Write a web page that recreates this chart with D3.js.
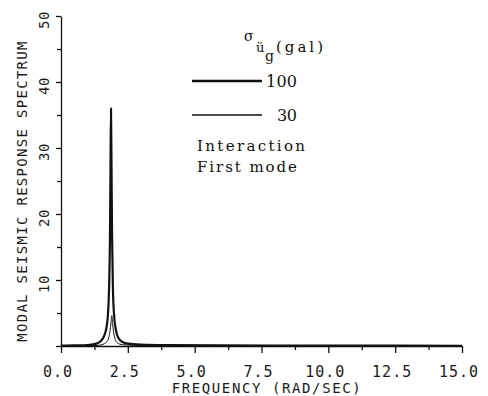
<!DOCTYPE html>
<html>
<head>
<meta charset="utf-8">
<script src="https://cdn.jsdelivr.net/npm/d3@7"></script>
<style>
  html, body { margin: 0; padding: 0; background: #fff; }
  svg { display: block; }
  .plot { font-family: "DejaVu Sans Mono", monospace; fill: #1a1a1a; }
  .type { font-family: "DejaVu Serif", "Liberation Serif", serif; fill: #111; }
</style>
</head>
<body>
<svg id="chart" width="488" height="396"></svg>
<script>
// Frequency (rad/sec) and modal spectrum ordinates, σ = 100 gal
const freq100 = [0.0, 0.5, 1.0, 1.25, 1.4, 1.5, 1.6, 1.7, 1.76, 1.80, 1.83, 1.85, 1.87, 1.89, 1.91, 1.94, 1.98, 2.05, 2.15, 2.3, 2.5, 3.0, 4.0, 6.0, 10.0, 15.0];
const spec100 = [0.05, 0.08, 0.15, 0.3, 0.5, 0.8, 1.4, 2.8, 5.0, 9.0, 16.0, 26.0, 36.0, 27.0, 17.0, 9.0, 5.0, 2.5, 1.2, 0.6, 0.35, 0.2, 0.12, 0.08, 0.05, 0.04];

// Same, σ = 30 gal
const freq30 = [0.0, 1.0, 1.4, 1.6, 1.7, 1.78, 1.83, 1.87, 1.90, 1.93, 1.97, 2.03, 2.1, 2.3, 3.0, 5.0, 15.0];
const spec30 = [0.02, 0.04, 0.1, 0.3, 0.6, 1.2, 2.2, 3.5, 4.6, 3.4, 2.0, 1.0, 0.5, 0.2, 0.08, 0.04, 0.02];

// Axis ticks
const xMajor = [0, 2.5, 5, 7.5, 10, 12.5, 15];
const xMinor = [1.25, 3.75, 6.25, 8.75, 11.25, 13.75];
const yMajor = [0, 10, 20, 30, 40, 50];
const yMinor = [5, 15, 25, 35, 45];

const xTitle = "FREQUENCY (RAD/SEC)";
const yTitle = "MODAL SEISMIC RESPONSE SPECTRUM";
const legendLabels = ["100", "30"];

const svg = d3.select("#chart");
const x = d3.scaleLinear().domain([0, 15]).range([61, 462]);
const y = d3.scaleLinear().domain([0, 50]).range([346, 16]);

const ink = "#111";

// X axis: major and minor ticks hanging below the base line
const gx = svg.append("g").attr("transform", `translate(0,${y(0)})`);
gx.call(d3.axisBottom(x).tickValues(xMajor).tickSize(7).tickSizeOuter(0).tickFormat(""));
const gxm = svg.append("g").attr("transform", `translate(0,${y(0)})`);
gxm.call(d3.axisBottom(x).tickValues(xMinor).tickSize(4).tickSizeOuter(0).tickFormat(""));
gxm.select(".domain").remove();

// Y axis: ticks pointing left
const gy = svg.append("g").attr("transform", `translate(${x(0)},0)`);
gy.call(d3.axisLeft(y).tickValues(yMajor).tickSize(5).tickSizeOuter(0).tickFormat(""));
const gym = svg.append("g").attr("transform", `translate(${x(0)},0)`);
gym.call(d3.axisLeft(y).tickValues(yMinor).tickSize(4).tickSizeOuter(0).tickFormat(""));
gym.select(".domain").remove();

svg.selectAll(".domain, .tick line").attr("stroke", ink).attr("stroke-width", 1.3);

// X tick labels
svg.append("g").selectAll("text").data(xMajor).join("text")
  .attr("class", "plot")
  .attr("x", d => x(d) - 3)
  .attr("y", 377)
  .attr("text-anchor", "middle")
  .style("font-size", "15px")
  .style("letter-spacing", "1px")
  .text(d => d3.format(".1f")(d));

// Y tick labels, rotated to read upward
svg.append("g").selectAll("text").data(yMajor.filter(d => d > 0)).join("text")
  .attr("class", "plot")
  .attr("transform", d => `translate(49,${y(d) + 4}) rotate(-90)`)
  .attr("text-anchor", "middle")
  .style("font-size", "14px")
  .style("letter-spacing", "0.5px")
  .text(d => d);

// Axis titles
svg.append("text")
  .attr("class", "plot")
  .attr("x", 267).attr("y", 393)
  .attr("text-anchor", "middle")
  .style("font-size", "14px")
  .style("letter-spacing", "1.6px")
  .text(xTitle);

svg.append("text")
  .attr("class", "plot")
  .attr("transform", "translate(27,191) rotate(-90)")
  .attr("text-anchor", "middle")
  .style("font-size", "14px")
  .style("letter-spacing", "1.3px")
  .text(yTitle);

// Spectrum curves
const line = d3.line().x(d => x(d[0])).y(d => y(d[1])).curve(d3.curveMonotoneX);
const pts30 = freq30.map((f, i) => [f, spec30[i]]);
const pts100 = freq100.map((f, i) => [f, spec100[i]]);

svg.append("path").datum(pts30)
  .attr("d", line).attr("fill", "none")
  .attr("stroke", ink).attr("stroke-width", 1);
svg.append("path").datum(pts100)
  .attr("d", line).attr("fill", "none")
  .attr("stroke", ink).attr("stroke-width", 2.2).attr("stroke-linejoin", "round");

// Legend (typewritten)
const lg = svg.append("g");
lg.append("text").attr("class", "type").attr("x", 244).attr("y", 41)
  .style("font-size", "14px").text("σ");
lg.append("text").attr("class", "type").attr("x", 256).attr("y", 52)
  .style("font-size", "13px").text("ü");
lg.append("text").attr("class", "type").attr("x", 265).attr("y", 61)
  .style("font-size", "14px").text("g");
lg.append("text").attr("class", "type").attr("x", 276).attr("y", 52)
  .attr("textLength", 47).attr("lengthAdjust", "spacing")
  .style("font-size", "15px").text("(gal)");

const legendY = [81, 115];
const legendW = [2.5, 1.3];
const labelX = [266, 277];
legendLabels.forEach((lab, i) => {
  lg.append("line")
    .attr("x1", 192).attr("x2", 262)
    .attr("y1", legendY[i]).attr("y2", legendY[i])
    .attr("stroke", ink).attr("stroke-width", legendW[i]);
  lg.append("text").attr("class", "type")
    .attr("x", labelX[i]).attr("y", legendY[i] + 6)
    .attr("textLength", 297 - labelX[i]).attr("lengthAdjust", "spacing")
    .style("font-size", "16px")
    .text(lab);
});

lg.append("text").attr("class", "type").attr("x", 197).attr("y", 151)
  .attr("textLength", 108).attr("lengthAdjust", "spacing")
  .style("font-size", "15px").text("Interaction");
lg.append("text").attr("class", "type").attr("x", 197).attr("y", 172)
  .attr("textLength", 100).attr("lengthAdjust", "spacing")
  .style("font-size", "15px").text("First mode");
</script>
</body>
</html>
